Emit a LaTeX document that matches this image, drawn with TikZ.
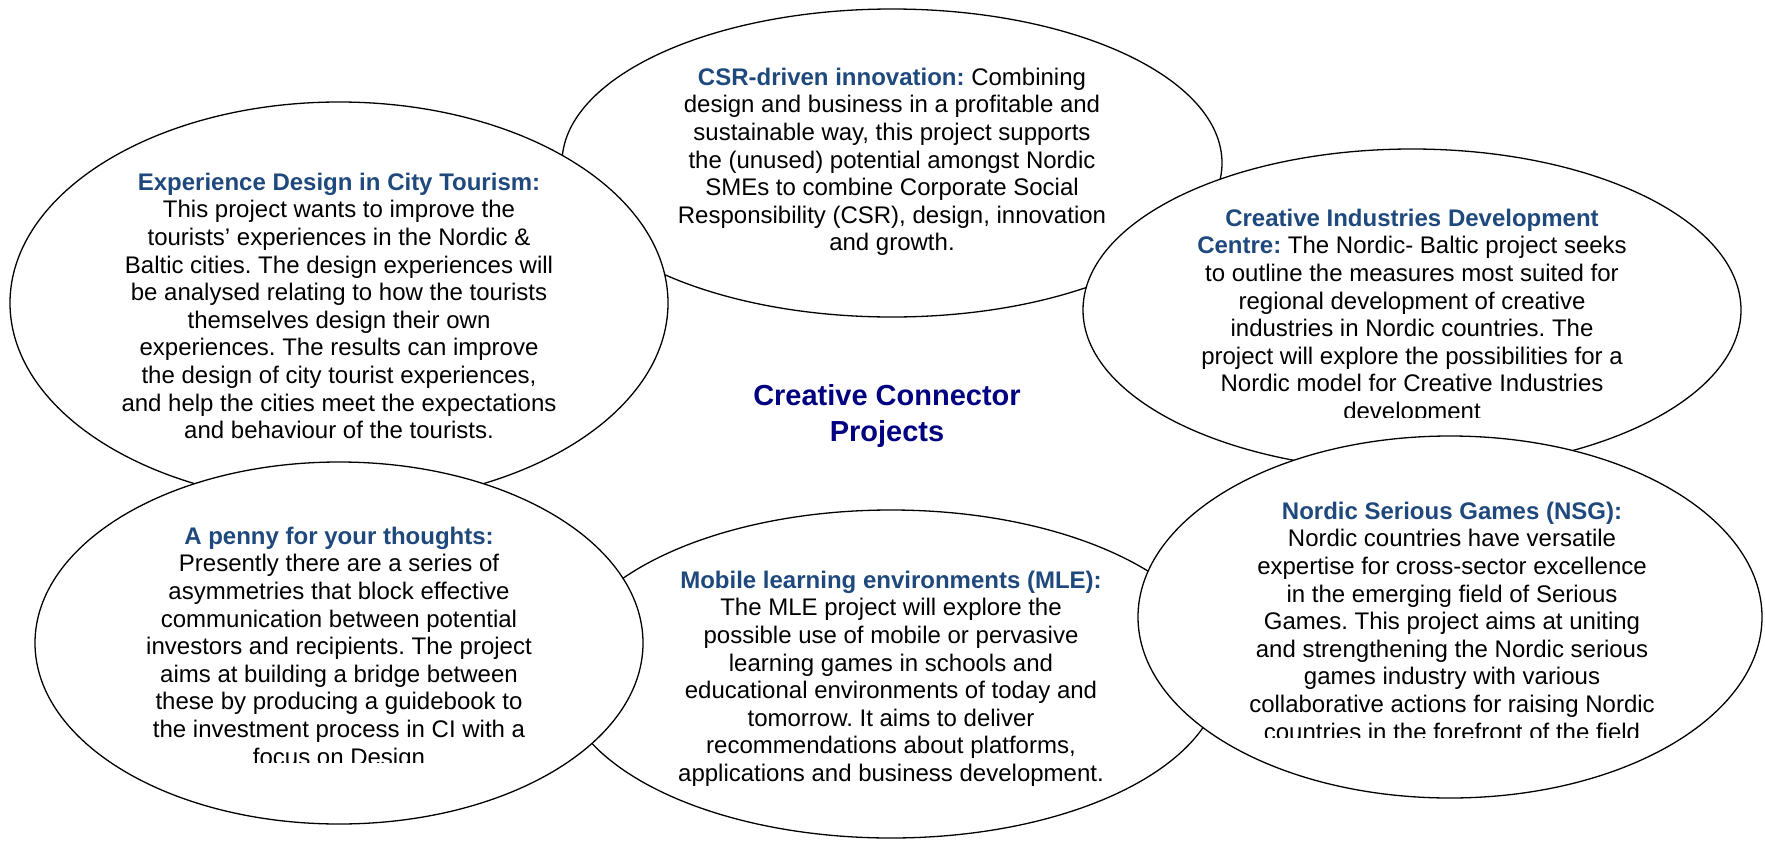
\documentclass[tikz,border=0pt]{standalone}
\usepackage{fontspec}
\setmainfont{Liberation Sans}
\usetikzlibrary{shapes.geometric}
\definecolor{hdr}{HTML}{1F497D}
\definecolor{ttl}{HTML}{000080}
\newcommand{\projhead}[1]{{\bfseries\color{hdr}#1}}
\newcommand{\firstline}{\rule{0pt}{20pt}}
\tikzset{
  bubble/.style={ellipse, draw=black, fill=white, line width=1.3pt, inner sep=0pt, outer sep=0pt},
  bodytext/.style={anchor=north, inner sep=0pt, align=center, text=black, font=\fontsize{24}{27.6}\selectfont\frenchspacing},
  maintitle/.style={anchor=north, inner sep=0pt, align=center, text=ttl, font=\fontsize{29}{36}\selectfont\bfseries},
}
\begin{document}
\frenchspacing
\begin{tikzpicture}[x=1pt,y=-1pt]
\useasboundingbox (0,0) rectangle (1765,841);
\fill[white] (0,0) rectangle (1765,841);

% CSR-driven innovation
\node[bubble, minimum width=660pt, minimum height=308pt] (csr) at (892,163) {};
\node[bodytext] (csrtext) at (892,65) {\firstline\projhead{CSR-driven innovation:} Combining\\
design and business in a profitable and\\
sustainable way, this project supports\\
the (unused) potential amongst Nordic\\
SMEs to combine Corporate Social\\
Responsibility (CSR), design, innovation\\
and growth.};

% Creative Industries Development Centre
\node[bubble, minimum width=658pt, minimum height=322pt] (cidc) at (1412,310) {};
\begin{scope}
\clip (1150,150) rectangle (1690,417);
\node[bodytext] (cidctext) at (1412,206) {\firstline\projhead{Creative Industries Development}\\
\projhead{Centre:} The Nordic- Baltic project seeks\\
to outline the measures most suited for\\
regional development of creative\\
industries in Nordic countries. The\\
project will explore the possibilities for a\\
Nordic model for Creative Industries\\
development};
\end{scope}

% Experience Design in City Tourism
\node[bubble, minimum width=658pt, minimum height=402pt] (exp) at (339,303) {};
\node[bodytext] (exptext) at (339,170) {\firstline\projhead{Experience Design in City Tourism:}\\
This project wants to improve the\\
tourists’ experiences in the Nordic \&\\
Baltic cities. The design experiences will\\
be analysed relating to how the tourists\\
themselves design their own\\
experiences. The results can improve\\
the design of city tourist experiences,\\
and help the cities meet the expectations\\
and behaviour of the tourists.};

% Mobile learning environments
\node[bubble, minimum width=660pt, minimum height=328pt] (mle) at (891,674) {};
\node[bodytext] (mletext) at (891,568) {\firstline\projhead{Mobile learning environments (MLE):}\\
The MLE project will explore the\\
possible use of mobile or pervasive\\
learning games in schools and\\
educational environments of today and\\
tomorrow. It aims to deliver\\
recommendations about platforms,\\
applications and business development.};

% A penny for your thoughts
\node[bubble, minimum width=608pt, minimum height=362pt] (penny) at (339,643) {};
\begin{scope}
\clip (90,480) rectangle (590,762);
\node[bodytext] (pennytext) at (339,524) {\firstline\projhead{A penny for your thoughts:}\\
Presently there are a series of\\
asymmetries that block effective\\
communication between potential\\
investors and recipients. The project\\
aims at building a bridge between\\
these by producing a guidebook to\\
the investment process in CI with a\\
focus on Design};
\end{scope}

% Nordic Serious Games
\node[bubble, minimum width=624pt, minimum height=362pt] (nsg) at (1450,617) {};
\begin{scope}
\clip (1190,460) rectangle (1710,737);
\node[bodytext] (nsgtext) at (1452,499) {\firstline\projhead{Nordic Serious Games (NSG):}\\
Nordic countries have versatile\\
expertise for cross-sector excellence\\
in the emerging field of Serious\\
Games. This project aims at uniting\\
and strengthening the Nordic serious\\
games industry with various\\
collaborative actions for raising Nordic\\
countries in the forefront of the field};
\end{scope}

% Title
\node[maintitle] (title) at (887,381) {\rule{0pt}{24pt}Creative Connector\\Projects};
\end{tikzpicture}
\end{document}
